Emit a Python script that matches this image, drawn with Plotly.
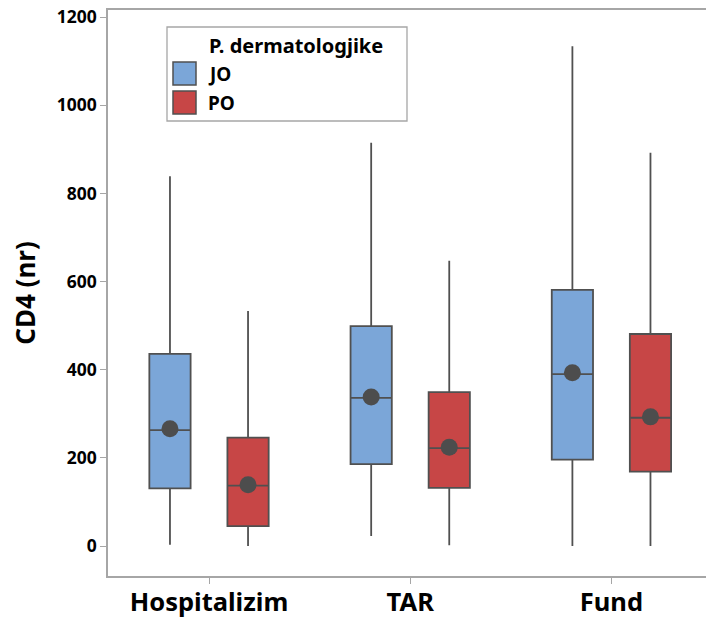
import plotly.graph_objects as go

# Groups along the x axis and the two series per group
groups = ["Hospitalizim", "TAR", "Fund"]
series_names = ["JO", "PO"]
legend_title = "P. dermatologjike"

# Five-number summaries and means of CD4 (nr) per group, per series
jo_min = [3, 23, 0]
jo_q1 = [131, 186, 196]
jo_median = [263, 336, 390]
jo_q3 = [436, 499, 581]
jo_max = [839, 915, 1134]
jo_mean = [266, 338, 393]

po_min = [0, 2, 0]
po_q1 = [45, 132, 169]
po_median = [137, 222, 291]
po_q3 = [246, 349, 481]
po_max = [533, 647, 892]
po_mean = [139, 224, 293]

y_ticks = [0, 200, 400, 600, 800, 1000, 1200]

FONT = "Noto Sans"
EDGE = "#505050"
AXIS = "#A6A6A6"
FILLS = {"JO": "#7BA6D8", "PO": "#C74646"}
OFFSET = 0.194      # half the distance between paired boxes, in category units
BOX_W = 0.205

W, H = 706, 622
M_L, M_R, M_T, M_B = 108, 0, 10, 46


def px(x, y):
    """Pixel position on the page -> paper coordinates of the plot area."""
    return (x - M_L) / (W - M_L - M_R), (H - M_B - y) / (H - M_T - M_B)


stats = {
    "JO": (jo_min, jo_q1, jo_median, jo_q3, jo_max, jo_mean, -OFFSET),
    "PO": (po_min, po_q1, po_median, po_q3, po_max, po_mean, +OFFSET),
}

fig = go.Figure()
for name in series_names:
    lo, q1, med, q3, hi, mean, off = stats[name]
    xs = [i + off for i in range(len(groups))]
    fig.add_trace(go.Box(
        name=name, x=xs, q1=q1, median=med, q3=q3,
        lowerfence=lo, upperfence=hi, width=BOX_W,
        fillcolor=FILLS[name], line=dict(color=EDGE, width=1.8),
        whiskerwidth=0, boxpoints=False, showlegend=False,
    ))
    fig.add_trace(go.Scatter(
        x=xs, y=mean, mode="markers", showlegend=False, hoverinfo="skip",
        marker=dict(color="#4D4D4D", size=17, line=dict(width=0)),
    ))

# Legend panel: framed box, title and one square swatch per series
shapes, annotations = [], []
x0, y0 = px(167, 27)
x1, y1 = px(407, 121)
shapes.append(dict(type="rect", xref="paper", yref="paper", x0=x0, y0=y1, x1=x1, y1=y0,
                   line=dict(color=AXIS, width=1.3), fillcolor="white", layer="above"))
tx, ty = px(207, 45)
annotations.append(dict(xref="paper", yref="paper", x=tx, y=ty, xanchor="left", yanchor="middle",
                        text=f"<b>{legend_title}</b>", showarrow=False,
                        font=dict(size=20, family=FONT, color="black")))
for k, name in enumerate(series_names):
    top = 62 + 29 * k
    sx0, sy0 = px(173, top)
    sx1, sy1 = px(196, top + 23)
    shapes.append(dict(type="rect", xref="paper", yref="paper", x0=sx0, y0=sy1, x1=sx1, y1=sy0,
                       line=dict(color=EDGE, width=1.5), fillcolor=FILLS[name], layer="above"))
    lx, ly = px(206, top + 12)
    annotations.append(dict(xref="paper", yref="paper", x=lx, y=ly, xanchor="left", yanchor="middle",
                            text=f"<b>{name}</b>", showarrow=False,
                            font=dict(size=19, family=FONT, color="black")))

fig.update_layout(
    width=W, height=H,
    margin=dict(l=M_L, r=M_R, t=M_T, b=M_B, autoexpand=False),
    plot_bgcolor="white", paper_bgcolor="white",
    font=dict(family=FONT, color="black"),
    showlegend=False,
    shapes=shapes, annotations=annotations,
)

fig.update_xaxes(
    range=[-0.502, 2.47],
    tickmode="array", tickvals=list(range(len(groups))),
    ticktext=[f"<b>{g}</b>" for g in groups],
    tickfont=dict(size=25.5, family=FONT),
    ticks="outside", ticklen=6, tickcolor=AXIS, tickwidth=1.2,
    ticklabelstandoff=-3,
    showline=True, linecolor=AXIS, linewidth=1.5, mirror=True,
    showgrid=False, zeroline=False, automargin=False,
)
fig.update_yaxes(
    range=[-68, 1216],
    tickmode="array", tickvals=y_ticks,
    ticktext=[f"<b>{v}</b>" for v in y_ticks],
    tickfont=dict(size=17.5, family=FONT),
    ticks="outside", ticklen=6, tickcolor=AXIS, tickwidth=1.2,
    showline=True, linecolor=AXIS, linewidth=1.5,
    showgrid=False, zeroline=False, automargin=False,
    title=dict(text="<b>CD4 (nr)</b>", font=dict(size=26, family=FONT), standoff=14),
)

fig.write_html("out.html")
